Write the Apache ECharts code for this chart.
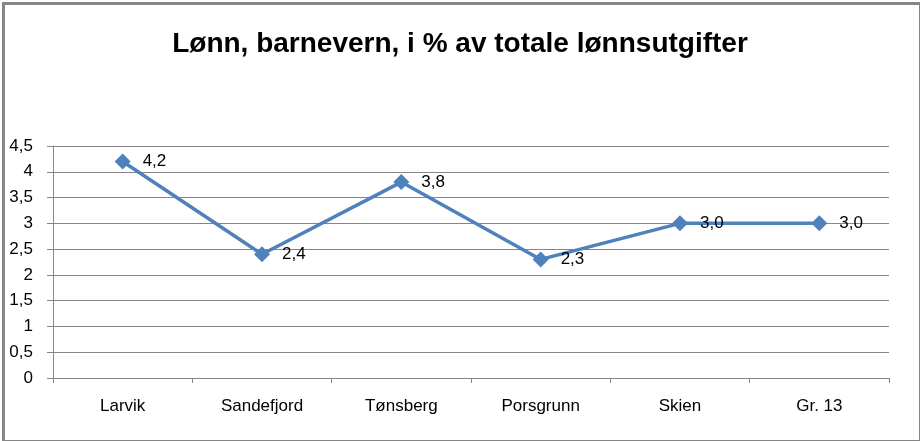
<!DOCTYPE html>
<html><head><meta charset="utf-8">
<script src="https://cdn.jsdelivr.net/npm/echarts@6/dist/echarts.min.js"></script>
<style>html,body{margin:0;padding:0;background:#fff}#c{width:920px;height:441px}</style>
</head><body><div id="c"></div>
<script>
const categories = ['Larvik','Sandefjord','Tønsberg','Porsgrunn','Skien','Gr. 13'];
const values = [4.2, 2.4, 3.8, 2.3, 3.0, 3.0];
const titleText = 'Lønn, barnevern, i % av totale lønnsutgifter';
const fmt = v => String(v).replace('.', ',');
const chart = echarts.init(document.getElementById('c'), null, {renderer:'canvas'});
chart.setOption({
  animation:false,
  backgroundColor:'#fff',
  graphic:[{type:'rect', left:1, top:1, shape:{width:917, height:438}, style:{fill:'none', stroke:'#868686', lineWidth:3}, z:100}],
  title:{text:titleText, left:'center', top:25, textStyle:{fontFamily:'Liberation Sans', fontWeight:'bold', fontSize:28, color:'#000'}},
  grid:{left:53, right:31, top:146, bottom:63},
  xAxis:{type:'category', data:categories, boundaryGap:true,
    axisLine:{lineStyle:{color:'#868686', width:1}},
    axisTick:{show:true, length:5, lineStyle:{color:'#868686'}},
    axisLabel:{color:'#000', fontFamily:'Liberation Sans', fontSize:17, margin:20}},
  yAxis:{type:'value', min:0, max:4.5, interval:0.5,
    axisLine:{show:true, lineStyle:{color:'#868686'}},
    axisTick:{show:true, inside:false, length:6, lineStyle:{color:'#868686'}},
    splitLine:{lineStyle:{color:'#868686'}},
    axisLabel:{color:'#000', fontFamily:'Liberation Sans', fontSize:17, margin:20, formatter:v=>fmt(v)}},
  series:[{type:'line', data:values, symbol:'diamond', symbolSize:16,
    lineStyle:{color:'#4F81BD', width:3.5}, itemStyle:{color:'#4F81BD'},
    label:{show:true, position:'right', distance:12, color:'#000', fontFamily:'Liberation Sans', fontSize:17, formatter:p=>p.value.toFixed(1).replace('.', ',')}}]
});
</script></body></html>
